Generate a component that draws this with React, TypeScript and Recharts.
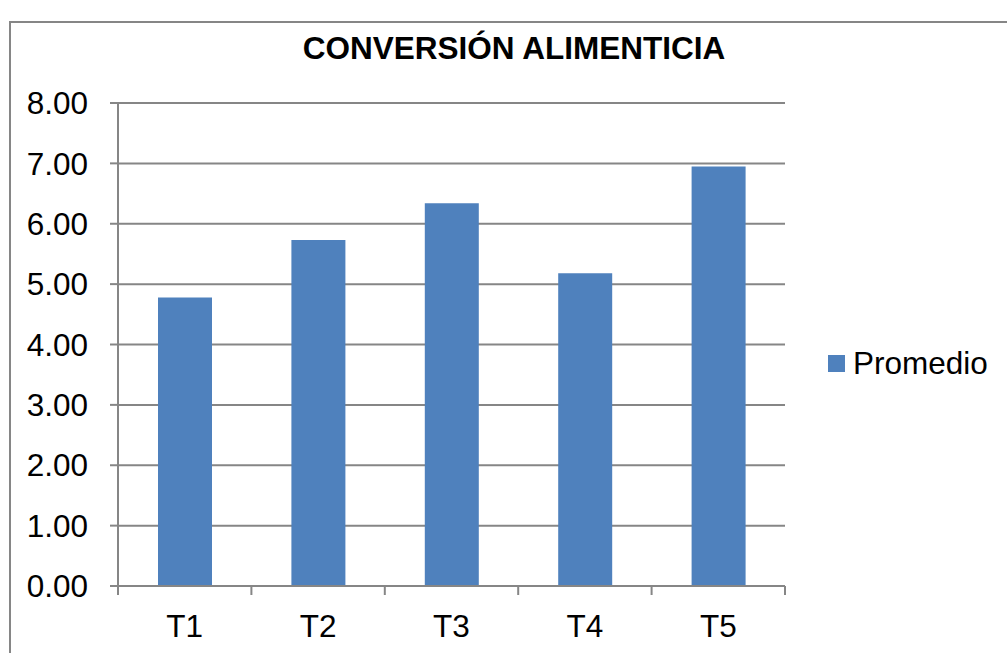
import React from 'react';
import { BarChart, Bar, XAxis, YAxis, CartesianGrid } from 'recharts';

const categories = ['T1', 'T2', 'T3', 'T4', 'T5'];
const promedio = [4.78, 5.73, 6.34, 5.18, 6.95];
const yTicks = [0, 1, 2, 3, 4, 5, 6, 7, 8];
const seriesName = 'Promedio';

const data = categories.map((name, i) => ({ name, Promedio: promedio[i] }));

const FONT = '"Liberation Sans", Arial, sans-serif';
const GRAY = '#868686';
const BLUE = '#4F81BD';

// category label plus tick marks on the band edges (Excel style)
const CategoryTick = (props: any) => {
  const { x, y, payload, index, visibleTicksCount } = props;
  const half = payload && payload.offset ? payload.offset : 0;
  return (
    <g>
      <line x1={x - half} x2={x - half} y1={y} y2={y + 9} stroke={GRAY} strokeWidth={2} />
      {index === visibleTicksCount - 1 && (
        <line x1={x + half} x2={x + half} y1={y} y2={y + 9} stroke={GRAY} strokeWidth={2} />
      )}
      <text x={x} y={y + 29} dy="0.71em" textAnchor="middle" fontFamily={FONT} fontSize={31.5} fill="#000">
        {payload.value}
      </text>
    </g>
  );
};

const App: React.FC = () => {
  return (
    <div style={{ position: 'absolute', left: 0, top: 0, width: 1007, height: 653, overflow: 'hidden', background: '#fff' }}>
      <div style={{ position: 'absolute', left: 9, top: 21, width: 1100, height: 700, border: `2px solid ${GRAY}`, boxSizing: 'border-box' }} />
      <div
        style={{
          position: 'absolute',
          left: 0,
          width: 1028,
          top: 30,
          textAlign: 'center',
          fontFamily: FONT,
          fontWeight: 'bold',
          fontSize: 31.5,
        }}
      >
        CONVERSIÓN ALIMENTICIA
      </div>
      <BarChart
        width={1007}
        height={653}
        data={data}
        margin={{ top: 103, right: 222, bottom: 0, left: 10 }}
        style={{ position: 'absolute', left: 0, top: 0 }}
      >
        <CartesianGrid vertical={false} stroke={GRAY} strokeWidth={2} />
        <XAxis
          dataKey="name"
          height={67}
          axisLine={{ stroke: GRAY, strokeWidth: 2 }}
          tickLine={false}
          tickSize={0}
          tickMargin={0}
          tick={<CategoryTick />}
          interval={0}
        />
        <YAxis
          width={108}
          domain={[0, 8]}
          ticks={yTicks}
          tickFormatter={(v: number) => v.toFixed(2)}
          tickSize={8}
          tickMargin={22}
          axisLine={{ stroke: GRAY, strokeWidth: 2 }}
          tickLine={{ stroke: GRAY, strokeWidth: 2 }}
          tick={{ fontFamily: FONT, fontSize: 31.5, fill: '#000' }}
        />
        <Bar dataKey="Promedio" name={seriesName} fill={BLUE} barSize={54} isAnimationActive={false} />
      </BarChart>
      <div style={{ position: 'absolute', left: 828, top: 345, display: 'flex', alignItems: 'center' }}>
        <span style={{ width: 17, height: 17, background: BLUE, display: 'inline-block', marginRight: 8 }} />
        <span style={{ fontFamily: FONT, fontSize: 31.5, color: '#000' }}>{seriesName}</span>
      </div>
    </div>
  );
};

export default App;
